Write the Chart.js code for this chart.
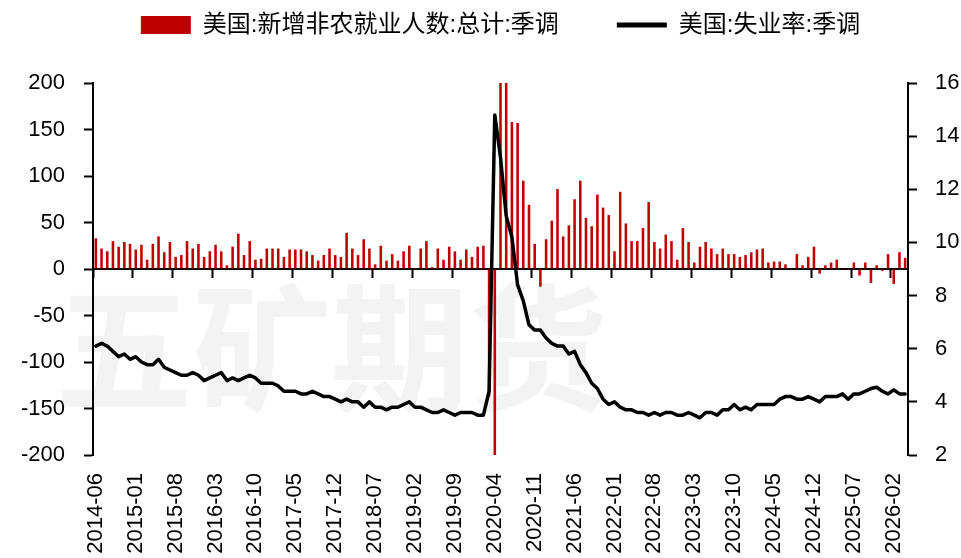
<!DOCTYPE html>
<html>
<head>
<meta charset="utf-8">
<script src="https://cdn.jsdelivr.net/npm/chart.js@4.4.1/dist/chart.umd.min.js"></script>
<style>
  html, body { margin: 0; background: #fff; }
  .wrap { width: 961px; height: 558px; position: relative; }
</style>
</head>
<body>
<div class="wrap"><canvas id="chart"></canvas></div>
<script>
// monthly categories, 2014-06 .. 2026-04
const startYear = 2014;
const startMonth = 6;
const monthCount = 143;
const months = [];
for (let i = 0; i < monthCount; i++) {
  const m = startMonth - 1 + i;
  months.push(`${startYear + Math.floor(m / 12)}-${String(m % 12 + 1).padStart(2, '0')}`);
}

const seriesNames = ['美国:新增非农就业人数:总计:季调', '美国:失业率:季调'];

// 万人
const payrolls = [
  33, 22, 19, 30, 24, 29, 27,                          // 2014 (Jun-Dec)
  21, 26, 10, 27, 35, 18, 29, 13, 15, 30, 22, 27,      // 2015
  13, 19, 26, 19, 4, 24, 38, 15, 30, 10, 11, 22,       // 2016
  22, 22, 13, 21, 21, 21, 19, 15, 9, 15, 22, 15,       // 2017
  13, 39, 22, 15, 32, 22, 5, 25, 9, 16, 9, 19,         // 2018
  25, 1, 22, 30, 2, 22, 10, 24, 19, 10, 21, 13,        // 2019
  24, 25, -137, -2050, 272, 479, 158, 157, 95, 69, 27, -19, // 2020
  32, 52, 86, 35, 47, 75, 95, 55, 46, 80, 66, 58,      // 2021
  19, 83, 49, 30, 30, 44, 72, 29, 22, 37, 30, 10,      // 2022
  44, 29, 7, 24, 29, 22, 16, 22, 16, 16, 13, 15,       // 2023
  18, 21, 22, 7, 8, 8, 5, 1, 16, 4, 13, 24,            // 2024
  -5, 4, 7, 10, 1, -1, 7, -7, 7, -15, 4, -2,           // 2025
  16, -16, 18, 12                                      // 2026
];

// %
const unemployment = [
  6.1, 6.2, 6.1, 5.9, 5.7, 5.8, 5.6,
  5.7, 5.5, 5.4, 5.4, 5.6, 5.3, 5.2, 5.1, 5.0, 5.0, 5.1, 5.0,
  4.8, 4.9, 5.0, 5.1, 4.8, 4.9, 4.8, 4.9, 5.0, 4.9, 4.7, 4.7,
  4.7, 4.6, 4.4, 4.4, 4.4, 4.3, 4.3, 4.4, 4.3, 4.2, 4.2, 4.1,
  4.0, 4.1, 4.0, 4.0, 3.8, 4.0, 3.8, 3.8, 3.7, 3.8, 3.8, 3.9,
  4.0, 3.8, 3.8, 3.7, 3.6, 3.6, 3.7, 3.6, 3.5, 3.6, 3.6, 3.6,
  3.5, 3.5, 4.4, 14.8, 13.2, 11.0, 10.2, 8.4, 7.8, 6.9, 6.7, 6.7,
  6.4, 6.2, 6.1, 6.1, 5.8, 5.9, 5.4, 5.1, 4.7, 4.5, 4.1, 3.9,
  4.0, 3.8, 3.7, 3.7, 3.6, 3.6, 3.5, 3.6, 3.5, 3.6, 3.6, 3.5,
  3.5, 3.6, 3.5, 3.4, 3.6, 3.6, 3.5, 3.7, 3.7, 3.9, 3.7, 3.8,
  3.7, 3.9, 3.9, 3.9, 3.9, 4.1, 4.2, 4.2, 4.1, 4.1, 4.2, 4.1,
  4.0, 4.2, 4.2, 4.2, 4.3, 4.1, 4.3, 4.3, 4.4, 4.5, 4.55, 4.4,
  4.3, 4.45, 4.3, 4.3
];

const labelEvery = 7;

Chart.defaults.font.family = "'Liberation Sans', 'Noto Sans CJK SC', sans-serif";
Chart.defaults.color = '#000';

const watermark = {
  id: 'watermark',
  beforeDraw(chart) {
    const { ctx } = chart;
    ctx.save();
    ctx.font = 'bold 138px "Noto Sans CJK SC"';
    ctx.fillStyle = '#f3f3f3';
    ctx.textBaseline = 'middle';
    ctx.fillText('五矿期货', 55, 348);
    ctx.restore();
  }
};

// extra room between legend and plot
const legendGap = {
  id: 'legendGap',
  beforeInit(chart) {
    if (!chart.legend) return;
    const fit = chart.legend.fit;
    chart.legend.fit = function () {
      fit.call(this);
      this.height += 36;
    };
  }
};

const axisTicks = {
  drawOnChartArea: false,
  color: '#000',
  tickLength: 9,
  tickWidth: 2
};

new Chart(document.getElementById('chart'), {
  data: {
    labels: months,
    datasets: [
      {
        type: 'bar',
        label: seriesNames[0],
        data: payrolls,
        backgroundColor: '#C00000',
        borderWidth: 0,
        barPercentage: 0.45,
        categoryPercentage: 1,
        xAxisID: 'x',
        yAxisID: 'y',
        order: 1
      },
      {
        type: 'line',
        label: seriesNames[1],
        data: unemployment,
        borderColor: '#000',
        backgroundColor: '#000',
        borderWidth: 3.5,
        borderJoinStyle: 'round',
        borderCapStyle: 'round',
        pointRadius: 0,
        tension: 0,
        xAxisID: 'x',
        yAxisID: 'y1',
        order: 0
      }
    ]
  },
  options: {
    responsive: true,
    maintainAspectRatio: false,
    animation: false,
    layout: { padding: { top: 3 } },
    scales: {
      x: {
        type: 'category',
        position: { y: 0 },
        offset: true,
        grid: {
          offset: true,
          drawOnChartArea: false,
          tickLength: 8,
          tickWidth: 2,
          tickColor: (ctx) => (ctx.index % labelEvery === 0 ? '#000' : 'rgba(0,0,0,0)')
        },
        border: { color: '#000', width: 2 },
        ticks: { display: false, autoSkip: false }
      },
      x2: {
        type: 'category',
        position: 'bottom',
        offset: true,
        grid: { display: false, drawTicks: false },
        border: { display: false },
        ticks: {
          autoSkip: false,
          minRotation: 90,
          maxRotation: 90,
          padding: 18,
          font: { size: 22 },
          callback(value, index) {
            return index % labelEvery === 0 ? this.getLabelForValue(value) : '';
          }
        },
        afterFit(scale) { scale.height = 103; }
      },
      y: {
        position: 'left',
        min: -200,
        max: 200,
        grid: axisTicks,
        border: { color: '#000', width: 2 },
        ticks: { stepSize: 50, padding: 19, font: { size: 22 } },
        afterFit(scale) { scale.width = 93; }
      },
      y1: {
        position: 'right',
        min: 2,
        max: 16,
        grid: axisTicks,
        border: { color: '#000', width: 2 },
        ticks: { stepSize: 2, padding: 18, font: { size: 22 } },
        afterFit(scale) { scale.width = 53; }
      }
    },
    plugins: {
      legend: {
        position: 'top',
        fullSize: false,
        labels: {
          font: { size: 24 },
          color: '#000',
          usePointStyle: true,
          pointStyleWidth: 50,
          boxHeight: 18,
          padding: 10,
          generateLabels(chart) {
            const items = Chart.defaults.plugins.legend.labels.generateLabels(chart);
            items.sort((a, b) => a.datasetIndex - b.datasetIndex);
            items[0].pointStyle = 'rect';
            items[0].text += '\u3000\u3000';
            items[1].pointStyle = 'line';
            items[1].lineWidth = 5;
            return items;
          }
        }
      },
      tooltip: { enabled: false }
    }
  },
  plugins: [watermark, legendGap]
});
</script>
</body>
</html>
